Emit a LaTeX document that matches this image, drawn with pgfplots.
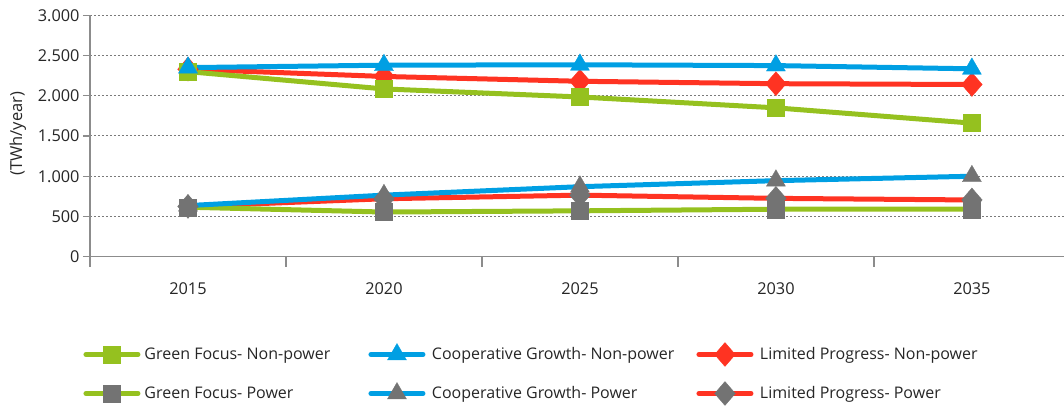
\documentclass[border=0pt]{standalone}
\usepackage{fontspec}
\setmainfont{Open Sans}
\usepackage{pgfplots}
\pgfplotsset{compat=1.18}

\definecolor{gfgreen}{HTML}{95C11F}
\definecolor{cgblue}{HTML}{009FE3}
\definecolor{lpred}{HTML}{FF3322}
\definecolor{mkgray}{HTML}{737373}
\definecolor{axgray}{HTML}{8C8C8C}
\definecolor{gridgray}{HTML}{7A7A7A}
\definecolor{txt}{HTML}{262626}

\pgfplotsset{
  series/.style={line width=5pt, color=#1},
  sq/.style={mark=square*, mark size=8.5pt,
    mark options={solid, line width=0.3pt, fill=#1, draw=#1}},
  tri/.style={mark=triangle*, mark size=11pt,
    mark options={solid, line width=0.3pt, fill=#1, draw=#1}},
  dia/.style={mark=diamond*, mark size=12pt,
    mark options={solid, line width=0.3pt, fill=#1, draw=#1, xscale=1.15}},
}

\begin{document}
\begin{tikzpicture}[x=1pt,y=1pt]
\begin{axis}[
  at={(0pt,0pt)}, anchor=south west,
  scale only axis, width=974pt, height=241.4pt,
  xmin=-0.5, xmax=4.47, ymin=0, ymax=3000,
  axis lines*=left,
  axis line style={axgray, line width=1.3pt},
  xtick={0,1,2,3,4},
  xticklabels={2015,2020,2025,2030,2035},
  minor xtick={-0.5,0.5,1.5,2.5,3.5},
  ytick={0,500,...,3000},
  tick align=outside,
  major tick length=7pt,
  minor tick length=10pt,
  major x tick style={draw=none},
  tick style={axgray, line width=1.3pt},
  ymajorgrids,
  major grid style={gridgray, line width=1pt, dash pattern=on 1.6pt off 2.4pt},
  /pgf/number format/assume math mode=true,
  /pgf/number format/1000 sep={.},
  tick label style={font=\fontsize{16.3}{19}\selectfont, text=txt},
  xticklabel style={yshift=-15pt},
  ylabel={(TWh/year)},
  ylabel style={at={(axis description cs:-0.074,0.51)}, anchor=center,
                font=\fontsize{16.5}{19}\selectfont, text=txt},
  clip=false,
  legend columns=3,
  legend style={draw=none, fill=none, inner sep=0pt, outer sep=0pt,
    at={(axis description cs:-0.0067,-0.3554)}, anchor=north west,
    column sep=0pt, row sep=15pt,
    nodes={inner sep=0pt, outer sep=0pt, anchor=west},
    font=\fontsize{16}{19}\selectfont, text=txt},
  legend image code/.code={%
    \draw[mark repeat=2, mark phase=2, line cap=round]
      plot coordinates {(0pt,0pt) (26pt,0pt) (52pt,0pt)};},
]
% Legend: non-power scenarios in the first row, power scenarios in the second
\addlegendimage{series=gfgreen, sq=gfgreen}
\addlegendentry{\makebox[228pt][l]{\hspace{4pt}Green Focus- Non-power}}
\addlegendimage{series=cgblue, tri=cgblue}
\addlegendentry{\makebox[271pt][l]{\hspace{6.5pt}Cooperative Growth- Non-power}}
\addlegendimage{series=lpred, dia=lpred}
\addlegendentry{\hspace{6.5pt}Limited Progress- Non-power}
\addlegendimage{series=gfgreen, sq=mkgray}
\addlegendentry{\makebox[228pt][l]{\hspace{4pt}Green Focus- Power}}
\addlegendimage{series=cgblue, tri=mkgray}
\addlegendentry{\makebox[271pt][l]{\hspace{6.5pt}Cooperative Growth- Power}}
\addlegendimage{series=lpred, dia=mkgray}
\addlegendentry{\hspace{6.5pt}Limited Progress- Power}

% Non-power demand (Cooperative Growth drawn last, on top)
\addplot[series=lpred, dia=lpred, forget plot]
  coordinates {(0,2330) (1,2240) (2,2180) (3,2150) (4,2140)};
\addplot[series=gfgreen, sq=gfgreen, forget plot]
  coordinates {(0,2300) (1,2085) (2,1985) (3,1850) (4,1660)};
\addplot[series=cgblue, tri=cgblue, forget plot]
  coordinates {(0,2350) (1,2380) (2,2385) (3,2375) (4,2335)};
% Power demand
\addplot[series=lpred, dia=mkgray, forget plot]
  coordinates {(0,625) (1,720) (2,765) (3,725) (4,705)};
\addplot[series=gfgreen, sq=mkgray, forget plot]
  coordinates {(0,615) (1,555) (2,570) (3,590) (4,590)};
\addplot[series=cgblue, tri=mkgray, forget plot]
  coordinates {(0,635) (1,765) (2,870) (3,945) (4,1000)};
\end{axis}
\pgfresetboundingbox
\path (-90pt,-149.3pt) rectangle (974pt,256.7pt);
\end{tikzpicture}
\end{document}
